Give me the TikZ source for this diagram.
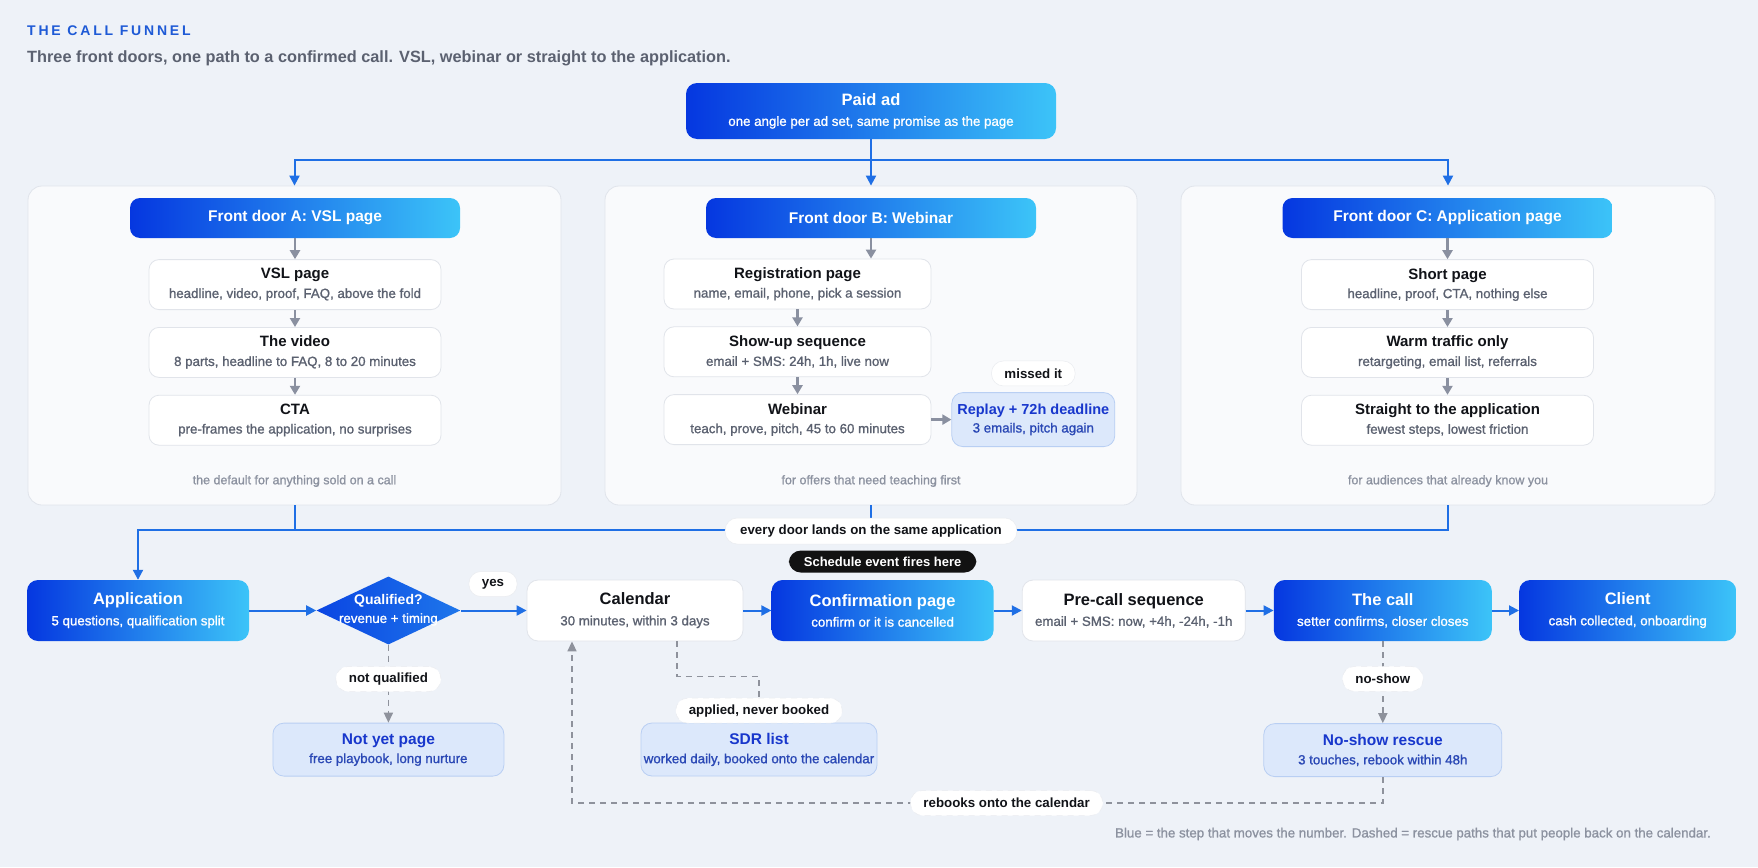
\documentclass[tikz,border=0pt]{standalone}
\usepackage{fontspec}
\setmainfont{Liberation Sans}
\newfontfamily\semifont[FakeBold=1.1]{Liberation Sans}
\usetikzlibrary{positioning,arrows.meta,shapes.geometric,calc}

\definecolor{bgcol}{HTML}{EEF2F8}
\definecolor{panelfill}{HTML}{F9FAFC}
\definecolor{panelline}{HTML}{E0E4EB}
\definecolor{boxline}{HTML}{E1E4EA}
\definecolor{ink}{HTML}{111318}
\definecolor{subgray}{HTML}{5B6170}
\definecolor{notegray}{HTML}{8C92A0}
\definecolor{arrowgray}{HTML}{8A90A0}
\definecolor{dashgray}{HTML}{8E929C}
\definecolor{flowblue}{HTML}{1F6FE5}
\definecolor{deepblue}{HTML}{0537E0}
\definecolor{skyblue}{HTML}{3CC4F8}
\definecolor{paleblue}{HTML}{DCE8FB}
\definecolor{paleline}{HTML}{B9CFF3}
\definecolor{rescuetitle}{HTML}{1837CC}
\definecolor{rescuesub}{HTML}{2A48B5}
\definecolor{headblue}{HTML}{1E5AD6}

\newcommand{\bt}[2]{{\color{tcol}#1}\\[1pt]{\color{scol}\semifont\mdseries\fontsize{13.3}{15}\selectfont #2}}

\begin{document}
\begin{tikzpicture}[x=1pt,y=-1pt,
    node distance=17pt,
    panel/.style={rectangle,rounded corners=14pt,draw=panelline,fill=panelfill,line width=0.8pt,minimum height=319pt},
    doorhead/.style={rectangle,rounded corners=10pt,left color=deepblue,right color=skyblue,text=white,font=\fontsize{15.5}{18}\selectfont\bfseries,minimum width=330pt,minimum height=40pt},
    stepbox/.style={rectangle,rounded corners=10pt,draw=boxline,fill=white,line width=0.8pt,align=center,minimum height=50pt,inner sep=2pt,font=\fontsize{15}{18}\selectfont\bfseries,execute at begin node={\colorlet{tcol}{ink}\colorlet{scol}{subgray}}},
    rowbox/.style={rectangle,rounded corners=11pt,align=center,minimum width=220pt,minimum height=61pt,inner sep=2pt,font=\fontsize{16.5}{19.5}\selectfont\bfseries},
    bluebox/.style={rowbox,left color=deepblue,right color=skyblue,execute at begin node={\colorlet{tcol}{white}\colorlet{scol}{white}}},
    whitebox/.style={rowbox,fill=white,draw=boxline,line width=0.8pt,execute at begin node={\colorlet{tcol}{ink}\colorlet{scol}{subgray}}},
    rescuebox/.style={rectangle,rounded corners=11pt,fill=paleblue,draw=paleline,line width=0.8pt,align=center,minimum height=53pt,inner sep=2pt,font=\fontsize{15.5}{18}\selectfont\bfseries,execute at begin node={\colorlet{tcol}{rescuetitle}\colorlet{scol}{rescuesub}}},
    gate/.style={diamond,inner sep=0pt,minimum width=144pt,minimum height=68pt,left color=deepblue!90!skyblue,right color=deepblue!55!skyblue,font=\fontsize{14}{17}\selectfont\bfseries,execute at begin node={\colorlet{tcol}{white}\colorlet{scol}{white}}},
    pill/.style={rectangle,rounded corners=12pt,fill=white,draw=boxline!70,line width=0.5pt,text=ink,font=\fontsize{13.3}{15}\selectfont\bfseries,inner xsep=13pt,minimum height=25pt},
    darkpill/.style={pill,fill=black!93,draw=none,text=white,minimum height=22pt,inner xsep=15pt,font=\fontsize{13}{15}\selectfont\bfseries},
    note/.style={text=notegray,font=\semifont\fontsize{12.5}{14}\selectfont},
    bluearrow/.style={draw=flowblue,line width=2pt,-{Triangle[length=10pt,width=10pt]}},
    blueline/.style={draw=flowblue,line width=2pt},
    grayarrow/.style={draw=arrowgray,line width=2.3pt,-{Triangle[length=9pt,width=10pt]}},
    dasharrow/.style={draw=dashgray,line width=1.6pt,dash pattern=on 6pt off 5pt,-{Triangle[length=10pt,width=9pt]}}]

    \useasboundingbox (0,0) rectangle (1758,867);
    \fill[bgcol] (0,0) rectangle (1758,867);

    \node[anchor=west,inner sep=0pt,text=headblue,font=\fontsize{14}{16}\selectfont\bfseries\addfontfeatures{LetterSpace=20}] (title) at (27,31) {THE CALL FUNNEL};
    \node[anchor=west,inner sep=0pt,text=subgray,font=\fontsize{16.3}{19}\selectfont\bfseries] (lede) at (27,58) {Three front doors, one path to a confirmed call. VSL, webinar or straight to the application.};

    \node[bluebox,minimum width=370pt,minimum height=56pt] (paid) at (871,111) {\bt{Paid ad}{one angle per ad set, same promise as the page}};

    \node[panel,minimum width=533pt] (panelA) at (294.5,345.5) {};
    \node[panel,minimum width=532pt] (panelB) at (871,345.5) {};
    \node[panel,minimum width=534pt] (panelC) at (1448,345.5) {};

    \node[doorhead] (headA) at (295,218) {Front door A: VSL page};
    \node[stepbox,minimum width=292pt,below=21pt of headA] (vsl) {\bt{VSL page}{headline, video, proof, FAQ, above the fold}};
    \node[stepbox,minimum width=292pt,below=of vsl] (video) {\bt{The video}{8 parts, headline to FAQ, 8 to 20 minutes}};
    \node[stepbox,minimum width=292pt,below=of video] (cta) {\bt{CTA}{pre-frames the application, no surprises}};
    \node[note,above=15pt of panelA.south] (noteA) {the default for anything sold on a call};

    \node[doorhead] (headB) at (871,218) {Front door B: Webinar};
    \node[stepbox,minimum width=267pt] (reg) at (797.5,284) {\bt{Registration page}{name, email, phone, pick a session}};
    \node[stepbox,minimum width=267pt,below=of reg] (showup) {\bt{Show-up sequence}{email + SMS: 24h, 1h, live now}};
    \node[stepbox,minimum width=267pt,below=of showup] (webinar) {\bt{Webinar}{teach, prove, pitch, 45 to 60 minutes}};
    \node[rescuebox,minimum width=163pt,minimum height=54pt,font=\fontsize{14.5}{17}\selectfont\bfseries,right=20pt of webinar] (replay) {\bt{Replay + 72h deadline}{3 emails, pitch again}};
    \node[pill,above=6pt of replay] (missed) {missed it};
    \node[note,above=15pt of panelB.south] (noteB) {for offers that need teaching first};

    \node[doorhead] (headC) at (1447.5,218) {Front door C: Application page};
    \node[stepbox,minimum width=292pt,below=21pt of headC] (short) {\bt{Short page}{headline, proof, CTA, nothing else}};
    \node[stepbox,minimum width=292pt,below=of short] (warm) {\bt{Warm traffic only}{retargeting, email list, referrals}};
    \node[stepbox,minimum width=292pt,below=of warm] (straight) {\bt{Straight to the application}{fewest steps, lowest friction}};
    \node[note,above=15pt of panelC.south] (noteC) {for audiences that already know you};

    \node[bluebox,minimum width=222pt] (app) at (138,610.5) {\bt{Application}{5 questions, qualification split}};
    \node[gate,right=67pt of app] (qual) {\makebox[0pt]{\begin{tabular}{@{}c@{}}\bt{Qualified?}{revenue + timing}\end{tabular}}};
    \node[whitebox,minimum width=216pt,right=66pt of qual] (cal) {\bt{Calendar}{30 minutes, within 3 days}};
    \node[bluebox,minimum width=222pt,right=28pt of cal] (confirm) {\bt{Confirmation page}{confirm or it is cancelled}};
    \node[whitebox,minimum width=223pt,right=28pt of confirm] (precall) {\bt{Pre-call sequence}{email + SMS: now, +4h, -24h, -1h}};
    \node[bluebox,minimum width=218pt,right=28pt of precall] (call) {\bt{The call}{setter confirms, closer closes}};
    \node[bluebox,minimum width=217pt,right=27pt of call] (client) {\bt{Client}{cash collected, onboarding}};
    \node[darkpill,above=7pt of confirm] (fires) {Schedule event fires here};
    \node[pill] (yes) at (493,584) {yes};

    \node[rescuebox,minimum width=231pt,below=78pt of qual] (notyet) {\bt{Not yet page}{free playbook, long nurture}};
    \node[rescuebox,minimum width=236pt] (sdr) at (759,749.5) {\bt{SDR list}{worked daily, booked onto the calendar}};
    \node[rescuebox,minimum width=238pt,below=82pt of call] (rescue) {\bt{No-show rescue}{3 touches, rebook within 48h}};

    \node[note,anchor=east,inner sep=0pt,font=\semifont\fontsize{13.3}{15}\selectfont] (legend) at (1711,834) {Blue = the step that moves the number. Dashed = rescue paths that put people back on the calendar.};

    \coordinate (split) at (871,160);
    \coordinate (land) at (138,530);
    \coordinate (rebook) at (572,803);

    \draw[bluearrow] (paid) -- (panelB);
    \draw[bluearrow] (split) -| (panelA.north);
    \draw[bluearrow] (split) -| (panelC.north);

    \draw[grayarrow] (headA) -- (vsl);
    \draw[grayarrow] (vsl) -- (video);
    \draw[grayarrow] (video) -- (cta);
    \draw[grayarrow] (headB.south) -- (headB.south |- reg.north);
    \draw[grayarrow] (reg) -- (showup);
    \draw[grayarrow] (showup) -- (webinar);
    \draw[grayarrow] (webinar) -- (replay);
    \draw[grayarrow] (headC) -- (short);
    \draw[grayarrow] (short) -- (warm);
    \draw[grayarrow] (warm) -- (straight);

    \draw[blueline] (panelA.south) -- (panelA.south |- land);
    \draw[blueline] (panelB.south) -- (panelB.south |- land);
    \draw[bluearrow] (panelC.south) |- (land) -- (app.north);
    \node[pill,minimum height=26pt,inner xsep=15pt] (doors) at (871,531) {every door lands on the same application};

    \draw[bluearrow] (app) -- (qual);
    \draw[bluearrow] (qual) -- (cal);
    \draw[bluearrow] (cal) -- (confirm);
    \draw[bluearrow] (confirm) -- (precall);
    \draw[bluearrow] (precall) -- (call);
    \draw[bluearrow] (call) -- (client);

    \draw[dasharrow] (qual.south) -- node[pill,pos=0.44] (notq) {not qualified} (notyet.north);
    \draw[dasharrow] ($(cal.south)+(42,0)$) |- ($(sdr.north)+(0,-46)$) -- node[pill,pos=0.74] (never) {applied, never booked} (sdr.north);
    \draw[dasharrow] (call.south) -- node[pill,pos=0.46] (noshow) {no-show} (rescue.north);
    \draw[dasharrow] (rescue.south) |- node[pill,pos=0.732] (rebooks) {rebooks onto the calendar} (rebook) -- (cal.south -| rebook);
\end{tikzpicture}
\end{document}
